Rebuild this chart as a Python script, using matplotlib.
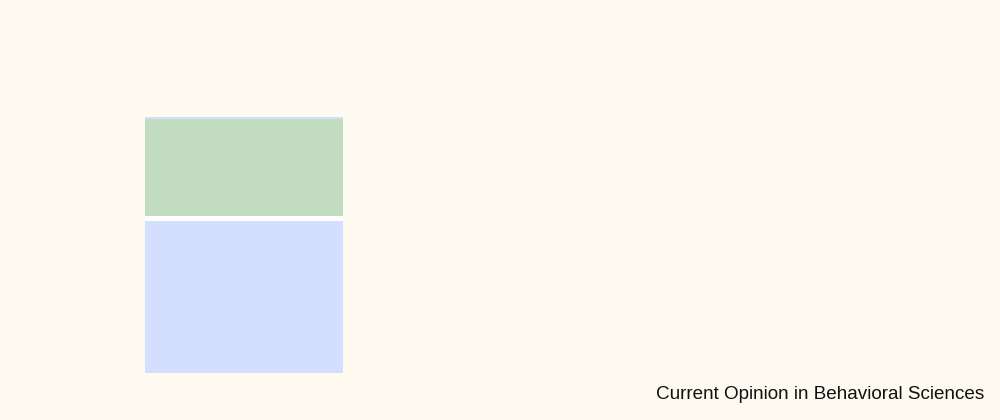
import matplotlib.pyplot as plt

# bar segments (bottom to top), in picture units
categories = ['panel']
blue_vals = [152]
gap_vals = [5]
green_vals = [97]
cap_vals = [2]
base = [47]
caption = 'Current Opinion in Behavioral Sciences'

bg = '#fffaf0'
blue = '#d4deff'
green = '#c1dcc0'

fig = plt.figure(figsize=(10, 4.2), dpi=100, facecolor=bg)
ax = fig.add_axes([0, 0, 1, 1], facecolor=bg)
ax.set_xlim(0, 1000)
ax.set_ylim(0, 420)
ax.axis('off')

x = [244]
w = 198
b = list(base)
ax.bar(x, blue_vals, width=w, bottom=b, color=blue, linewidth=0)
b = [b[i] + blue_vals[i] for i in range(len(b))]
ax.bar(x, gap_vals, width=w, bottom=b, color='white', linewidth=0)
b = [b[i] + gap_vals[i] for i in range(len(b))]
ax.bar(x, green_vals, width=w, bottom=b, color=green, linewidth=0)
b = [b[i] + green_vals[i] for i in range(len(b))]
ax.bar(x, cap_vals, width=w, bottom=b, color=blue, linewidth=0)

fig.text(0.984, 0.041, caption, ha='right', va='bottom',
         fontsize=13.6, family=['Liberation Sans', 'DejaVu Sans'], color='#111111')

fig.savefig('out.png', dpi=100, facecolor=bg)
